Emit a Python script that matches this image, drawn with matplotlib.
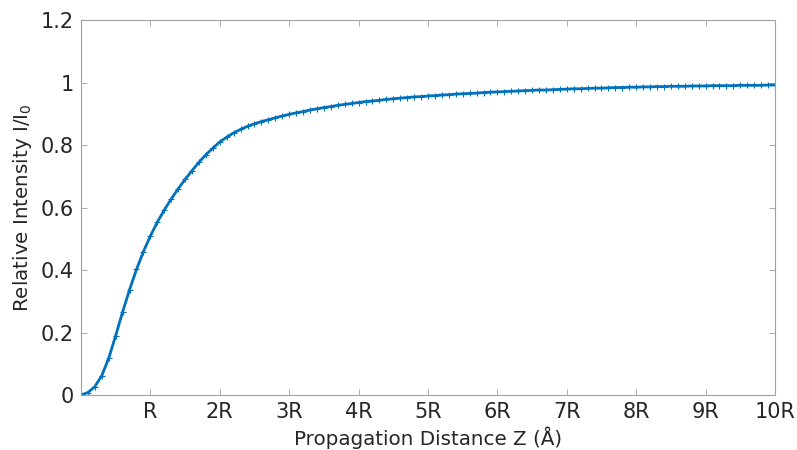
import numpy as np
import matplotlib
matplotlib.use("Agg")
import matplotlib.pyplot as plt

# propagation distance in units of R (0 .. 10R, step 0.1R)
z_r = [round(0.1 * i, 1) for i in range(101)]
# relative intensity I/I0 at each z_r
intensity = [0.000, 0.008, 0.027, 0.062, 0.118, 0.190, 0.266, 0.337, 0.402, 0.459,
             0.509, 0.553, 0.592, 0.627, 0.660, 0.690, 0.718, 0.745, 0.769, 0.790,
             0.810, 0.825, 0.839, 0.850, 0.860, 0.868, 0.875, 0.881, 0.887, 0.893,
             0.898, 0.903, 0.907, 0.912, 0.916, 0.920, 0.923, 0.927, 0.930, 0.933,
             0.936, 0.939, 0.941, 0.943, 0.946, 0.948, 0.950, 0.952, 0.954, 0.955,
             0.957, 0.958, 0.960, 0.961, 0.963, 0.964, 0.965, 0.966, 0.968, 0.969,
             0.970, 0.971, 0.972, 0.973, 0.974, 0.975, 0.976, 0.976, 0.977, 0.978,
             0.979, 0.980, 0.980, 0.981, 0.982, 0.982, 0.983, 0.984, 0.984, 0.985,
             0.985, 0.986, 0.986, 0.987, 0.987, 0.988, 0.988, 0.988, 0.989, 0.989,
             0.989, 0.990, 0.990, 0.990, 0.990, 0.991, 0.991, 0.991, 0.991, 0.992,
             0.992]

xtick_pos = [1, 2, 3, 4, 5, 6, 7, 8, 9, 10]
xtick_labels = ["R", "2R", "3R", "4R", "5R", "6R", "7R", "8R", "9R", "10R"]
ytick_pos = [0, 0.2, 0.4, 0.6, 0.8, 1.0, 1.2]
ytick_labels = ["0", "0.2", "0.4", "0.6", "0.8", "1", "1.2"]

plt.rcParams['font.family'] = ['DejaVu Sans']

fig = plt.figure(figsize=(7.97, 4.5), dpi=100)
ax = fig.add_axes([0.1016, 0.1222, 0.8708, 0.8333])

ax.plot(z_r, intensity, color='#0072BD', linewidth=2.0,
        marker='+', markersize=4, markeredgewidth=0.8)

ax.set_xlim(0, 10)
ax.set_ylim(0, 1.2)
ax.set_xticks(xtick_pos)
ax.set_xticklabels(xtick_labels)
ax.set_yticks(ytick_pos)
ax.set_yticklabels(ytick_labels)

ax.tick_params(direction='in', length=4, width=0.6, colors='#a0a0a0',
               labelcolor='#262626', labelsize=15, top=True, right=True, pad=5)
for s in ax.spines.values():
    s.set_color('#a0a0a0')
    s.set_linewidth(0.8)

ax.set_xlabel("Propagation Distance Z (Å)", fontsize=14.3, color='#262626', labelpad=3)
ax.set_ylabel("Relative Intensity I/I$_0$", fontsize=14.3, color='#262626', labelpad=5)

fig.savefig("out.png", dpi=100)
